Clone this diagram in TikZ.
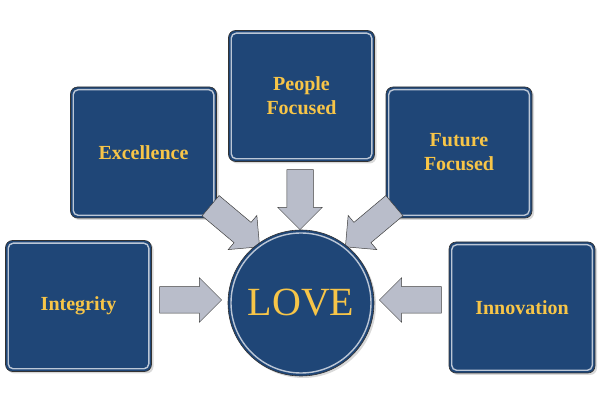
\documentclass[tikz,border=0pt]{standalone}
\usepackage{fontspec}
\setmainfont{Liberation Serif}
\usetikzlibrary{shapes.arrows,shadows}
\definecolor{boxblue}{HTML}{1F4677}
\definecolor{gold}{HTML}{F7C548}
\definecolor{arrgray}{HTML}{B9BDCA}
\tikzset{
 bluebox/.style={draw=black!80,line width=0.6pt,fill=boxblue,rounded corners=7pt,minimum width=146pt,minimum height=131pt,
   text=gold,font=\bfseries\fontsize{20}{24}\selectfont,align=center,drop shadow={opacity=0.3,shadow xshift=2pt,shadow yshift=-2pt}},
 rim/.style={draw=white!70!boxblue,line width=1.4pt,rounded corners=5pt},
 blockarrow/.style={shape=single arrow,draw=black!75,line width=0.5pt,fill=arrgray,
   minimum height=#1,inner xsep=0pt,inner ysep=13pt,single arrow head extend=9pt,single arrow head indent=0pt}
}
\begin{document}
\begin{tikzpicture}[x=1pt,y=-1pt]
\useasboundingbox (0,0) rectangle (600,403);
\node[bluebox] (int) at (78.5,306) {Integrity};
\node[bluebox] (exc) at (143.5,152.5) {Excellence};
\node[bluebox] (peo) at (301.5,96) {People\\Focused};
\node[bluebox] (fut) at (459,152.5) {Future\\Focused};
\node[bluebox] (inn) at (522,307.5) {Innovation};
\foreach \n in {int,exc,peo,fut,inn}{
 \draw[rim] ([shift={(3pt,-3pt)}]\n.north west) rectangle ([shift={(-3pt,3pt)}]\n.south east);}
\node[blockarrow=62pt] (a1) at (184,300) {};
\node[blockarrow=62pt,rotate=180] (a5) at (417,300) {};
\node[blockarrow=60pt,rotate=-90] (a3) at (300,193) {};
\node[blockarrow=64pt,rotate=-40] (a2) at (230,222) {};
\node[blockarrow=64pt,rotate=-140] (a4) at (375,222) {};
\node[circle,draw=black!80,line width=0.6pt,fill=boxblue,minimum size=146pt,text=gold,
  font=\fontsize{40}{44}\selectfont,drop shadow={opacity=0.3,shadow xshift=2pt,shadow yshift=-2pt}] (love) at (301,303) {LOVE};
\draw[white!70!boxblue,line width=1.4pt] (love.center) circle (70pt);
\end{tikzpicture}
\end{document}
